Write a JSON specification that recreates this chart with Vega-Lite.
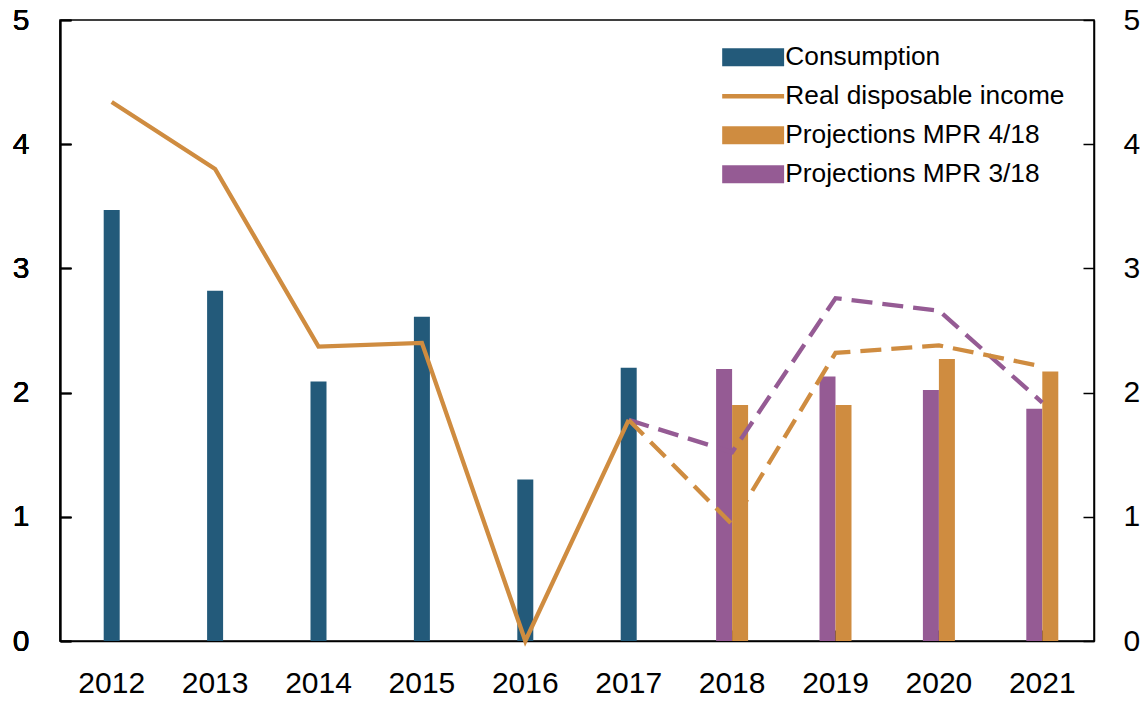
{
  "$schema": "https://vega.github.io/schema/vega-lite/v6.json",
  "width": 1034,
  "height": 621,
  "autosize": "none",
  "padding": {"left": 60, "top": 20, "right": 54, "bottom": 60},
  "config": {
    "view": {"stroke": "black", "strokeWidth": 1.5},
    "font": "Liberation Sans",
    "axis": {"domainColor": "black", "tickColor": "black", "labelColor": "black", "labelFont": "Liberation Sans", "labelFontSize": 30, "grid": false, "title": null, "domainWidth": 1.5, "tickWidth": 1.5}
  },
  "datasets": {
    "bars": [
      {"year": "2012", "series": "Consumption", "value": 3.47},
      {"year": "2013", "series": "Consumption", "value": 2.82},
      {"year": "2014", "series": "Consumption", "value": 2.09},
      {"year": "2015", "series": "Consumption", "value": 2.61},
      {"year": "2016", "series": "Consumption", "value": 1.30},
      {"year": "2017", "series": "Consumption", "value": 2.20}
    ],
    "proj": [
      {"year": "2018", "series": "Projections MPR 3/18", "value": 2.19},
      {"year": "2019", "series": "Projections MPR 3/18", "value": 2.13},
      {"year": "2020", "series": "Projections MPR 3/18", "value": 2.02},
      {"year": "2021", "series": "Projections MPR 3/18", "value": 1.87},
      {"year": "2018", "series": "Projections MPR 4/18", "value": 1.90},
      {"year": "2019", "series": "Projections MPR 4/18", "value": 1.90},
      {"year": "2020", "series": "Projections MPR 4/18", "value": 2.27},
      {"year": "2021", "series": "Projections MPR 4/18", "value": 2.17}
    ],
    "income": [
      {"year": "2012", "series": "Real disposable income", "value": 4.34},
      {"year": "2013", "series": "Real disposable income", "value": 3.80},
      {"year": "2014", "series": "Real disposable income", "value": 2.37},
      {"year": "2015", "series": "Real disposable income", "value": 2.40},
      {"year": "2016", "series": "Real disposable income", "value": 0.0},
      {"year": "2017", "series": "Real disposable income", "value": 1.78}
    ],
    "incproj": [
      {"year": "2017", "series": "Projections MPR 3/18", "value": 1.78},
      {"year": "2018", "series": "Projections MPR 3/18", "value": 1.52},
      {"year": "2019", "series": "Projections MPR 3/18", "value": 2.76},
      {"year": "2020", "series": "Projections MPR 3/18", "value": 2.66},
      {"year": "2021", "series": "Projections MPR 3/18", "value": 1.92},
      {"year": "2017", "series": "Projections MPR 4/18", "value": 1.78},
      {"year": "2018", "series": "Projections MPR 4/18", "value": 0.94},
      {"year": "2019", "series": "Projections MPR 4/18", "value": 2.32},
      {"year": "2020", "series": "Projections MPR 4/18", "value": 2.38},
      {"year": "2021", "series": "Projections MPR 4/18", "value": 2.21}
    ]
  },
  "encoding": {
    "x": {
      "field": "year", "type": "ordinal",
      "scale": {"domain": ["2012","2013","2014","2015","2016","2017","2018","2019","2020","2021"], "paddingInner": 0, "paddingOuter": 0},
      "axis": {"labelAngle": 0, "tickSize": -11, "labelPadding": 38, "domain": true}
    },
    "y": {
      "field": "value", "type": "quantitative",
      "scale": {"domain": [0, 5], "nice": false},
      "axis": {"values": [0,1,2,3,4,5], "tickSize": -11, "labelPadding": 42, "orient": "left"}
    },
    "color": {
      "field": "series", "type": "nominal",
      "scale": {
        "domain": ["Consumption", "Real disposable income", "Projections MPR 4/18", "Projections MPR 3/18"],
        "range": ["#235a7a", "#cf8c40", "#cf8c40", "#955b94"]
      },
      "legend": {
        "title": null,
        "orient": "none",
        "legendX": 680,
        "legendY": 24,
        "labelFont": "Liberation Sans",
        "labelFontSize": 26.3,
        "labelColor": "black",
        "labelLimit": 400,
        "symbolSize": 324,
        "symbolStrokeWidth": 0,
        "labelOffset": 19,
        "rowPadding": 12,
        "padding": 0,
        "encode": {
          "symbols": {
            "update": {
              "shape": {"signal": "datum.value === 'Real disposable income' ? 'M-3.44,-0.25H3.44V0.25H-3.44Z' : 'M-3.44,-1H3.44V1H-3.44Z'"},
              "fill": {"scale": "color", "field": "value"},
              "fillOpacity": {"value": 1},
              "strokeWidth": {"value": 0}
            }
          }
        }
      }
    }
  },
  "layer": [
    {
      "data": {"name": "bars"},
      "mark": {"type": "bar", "width": 16}
    },
    {
      "data": {"name": "proj"},
      "mark": {"type": "bar", "width": 16},
      "encoding": {
        "xOffset": {"field": "series", "type": "nominal", "scale": {"domain": ["Projections MPR 3/18", "Projections MPR 4/18"], "range": [35.7, 67.7], "paddingInner": 0, "paddingOuter": 0}}
      }
    },
    {
      "data": {"name": "income"},
      "mark": {"type": "line", "strokeWidth": 4.3}
    },
    {
      "data": {"name": "incproj"},
      "mark": {"type": "line", "strokeWidth": 4.3, "strokeDash": [21, 10]},
      "encoding": {"detail": {"field": "series"}}
    },
    {
      "data": {"name": "income"},
      "mark": {"type": "rule", "opacity": 0},
      "encoding": {
        "y": {"field": "value", "type": "quantitative", "axis": {"orient": "right", "values": [0,1,2,3,4,5], "tickSize": -11, "labelPadding": 40}},
        "color": {"value": "transparent"}
      }
    }
  ],
  "resolve": {"scale": {"y": "independent"}}
}
